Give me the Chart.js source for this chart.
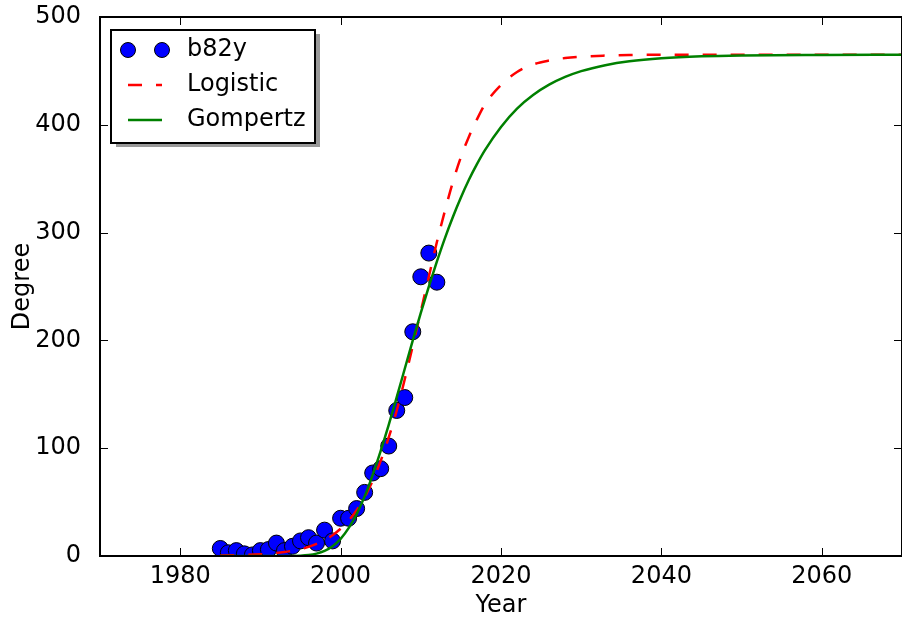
<!DOCTYPE html>
<html><head><meta charset="utf-8">
<script src="https://cdn.jsdelivr.net/npm/chart.js@4/dist/chart.umd.min.js"></script>
<style>html,body{margin:0;padding:0;background:#fff;} canvas{display:block;}</style>
</head><body>
<canvas id="c" width="902" height="618"></canvas>
<script>
// ---- data ----
const years = [1985,1986,1987,1988,1989,1990,1991,1992,1993,1994,1995,1996,1997,1998,1999,2000,2001,2002,2003,2004,2005,2006,2007,2008,2009,2010,2011,2012];
const degree = [7,3,5,2,1,5,6,12,5,9,14,17,12,24,14,35,35,44,59,77,81,102,135,147,208,259,281,254];
const fitYears = [1985,1990,1993,1995,1996,1997,1998,1999,2000,2001,2002,2003,2004,2005,2006,2007,2008,2009,2010,2011,2012,2013,2014,2015,2016,2017,2018,2020,2022,2024,2026,2028,2030,2033,2036,2040,2045,2050,2060,2070];
const logistic = [0.4,1.6,3.7,6.5,8.5,11.2,14.7,19.3,25.3,32.8,42.5,54.7,69.8,88.2,110,135,164,195,227,259,291,320,347,370,389,405,419,437,449,456,459.6,461.9,463.2,464.2,464.8,465,465,465,465,465];
const gompertz = [0,0,0,0.3,0.9,2.2,4.7,9,15.9,25.8,38.9,55.3,75.3,97.6,121.7,147.4,173.7,200,225.5,249.9,273,294.7,314.5,332.6,349,363.5,376.5,398,415,427.6,437.2,444.4,449.8,455.3,458.9,461.7,463.5,464.3,464.8,465];
const xTicks = [1980,2000,2020,2040,2060];
const yTicks = [0,100,200,300,400,500];
const seriesLabels = ['b82y','Logistic','Gompertz'];
const xTitle = 'Year';
const yTitle = 'Degree';

const FONT = "'DejaVu Sans', 'Bitstream Vera Sans', sans-serif";
Chart.defaults.font.family = FONT;
Chart.defaults.font.size = 24;
Chart.defaults.color = '#000';

const pts = (xs, ys) => xs.map((x, i) => ({x: x, y: ys[i]}));

const framePlugin = {
  id: 'frame',
  afterDatasetsDraw(chart) {
    const {ctx, chartArea: a, scales} = chart;
    ctx.save();
    ctx.strokeStyle = '#000';
    ctx.lineWidth = 1;
    const tl = 8;
    ctx.beginPath();
    xTicks.forEach(v => {
      const px = Math.round(scales.x.getPixelForValue(v)) + 0.5;
      ctx.moveTo(px, a.bottom); ctx.lineTo(px, a.bottom - tl);
      ctx.moveTo(px, a.top); ctx.lineTo(px, a.top + tl);
    });
    yTicks.forEach(v => {
      const py = Math.round(scales.y.getPixelForValue(v)) + 0.5;
      ctx.moveTo(a.left, py); ctx.lineTo(a.left + tl, py);
      ctx.moveTo(a.right, py); ctx.lineTo(a.right - tl, py);
    });
    ctx.stroke();
    ctx.lineWidth = 2;
    ctx.strokeRect(a.left, a.top, a.right - a.left, a.bottom - a.top);
    ctx.restore();
  }
};

const legendPlugin = {
  id: 'customLegend',
  afterDraw(chart) {
    const ctx = chart.ctx;
    const ds = chart.data.datasets;
    const bx = 111, by = 30, bw = 204, bh = 113;
    ctx.save();
    ctx.fillStyle = '#999';
    ctx.fillRect(bx + 5, by + 4, bw, bh);
    ctx.fillStyle = '#fff';
    ctx.fillRect(bx, by, bw, bh);
    ctx.strokeStyle = '#000';
    ctx.lineWidth = 2;
    ctx.strokeRect(bx, by, bw, bh);
    const rows = [50, 85, 120];
    const x0 = 128, x1 = 162, tx = 187;
    [x0, x1].forEach(mx => {
      ctx.beginPath();
      ctx.arc(mx, rows[0], 7.5, 0, Math.PI * 2);
      ctx.fillStyle = ds[0].backgroundColor;
      ctx.fill();
      ctx.lineWidth = 1;
      ctx.strokeStyle = ds[0].borderColor;
      ctx.stroke();
    });
    [1, 2].forEach(i => {
      ctx.beginPath();
      ctx.setLineDash(ds[i].borderDash || []);
      ctx.lineWidth = ds[i].borderWidth;
      ctx.strokeStyle = ds[i].borderColor;
      ctx.moveTo(x0, rows[i]); ctx.lineTo(x1, rows[i]);
      ctx.stroke();
    });
    ctx.setLineDash([]);
    ctx.fillStyle = '#000';
    ctx.font = '24px ' + FONT;
    ctx.textBaseline = 'middle';
    ctx.textAlign = 'left';
    ds.forEach((d, i) => ctx.fillText(d.label, tx, rows[i]));
    ctx.restore();
  }
};

function zeroPad(s) { s.paddingTop = 0; s.paddingBottom = 0; s.paddingLeft = 0; s.paddingRight = 0; }

new Chart(document.getElementById('c'), {
  type: 'scatter',
  data: {
    datasets: [
      {label: seriesLabels[0], data: pts(years, degree), showLine: false,
       pointRadius: 8, pointHoverRadius: 8, backgroundColor: '#0000ff', borderColor: '#000',
       pointBorderWidth: 1, order: 2, clip: 0},
      {label: seriesLabels[1], data: pts(fitYears, logistic), showLine: true, pointRadius: 0,
       borderColor: '#ff0000', backgroundColor: '#ff0000', borderWidth: 2.5, borderDash: [14, 14],
       cubicInterpolationMode: 'monotone', order: 1, clip: 0},
      {label: seriesLabels[2], data: pts(fitYears, gompertz), showLine: true, pointRadius: 0,
       borderColor: '#008000', backgroundColor: '#008000', borderWidth: 2.5,
       cubicInterpolationMode: 'monotone', order: 0, clip: 0}
    ]
  },
  options: {
    responsive: false,
    animation: false,
    devicePixelRatio: 1,
    layout: {autoPadding: false, padding: {top: 17, right: 0, left: 0, bottom: 0}},
    plugins: {legend: {display: false}, tooltip: {enabled: false}},
    scales: {
      x: {
        type: 'linear', min: 1970, max: 2070,
        grid: {display: false}, border: {display: false},
        afterBuildTicks: s => { s.ticks = xTicks.map(v => ({value: v})); },
        afterFit: s => { s.height = 62; zeroPad(s); },
        ticks: {padding: -2, color: '#000', font: {size: 24}, maxRotation: 0, autoSkip: false,
                callback: v => String(v)},
        title: {display: true, text: xTitle, color: '#000', font: {size: 24, lineHeight: 1}, padding: {top: 0, bottom: 0}}
      },
      y: {
        type: 'linear', min: 0, max: 500,
        grid: {display: false}, border: {display: false},
        afterBuildTicks: s => { s.ticks = yTicks.map(v => ({value: v})); },
        afterFit: s => { s.width = 100; zeroPad(s); },
        ticks: {padding: 11, color: '#000', font: {size: 24}, callback: v => String(v)},
        title: {display: true, text: yTitle, color: '#000', font: {size: 24}, padding: {top: 8, bottom: 0}}
      }
    }
  },
  plugins: [framePlugin, legendPlugin]
});
</script>
</body></html>
